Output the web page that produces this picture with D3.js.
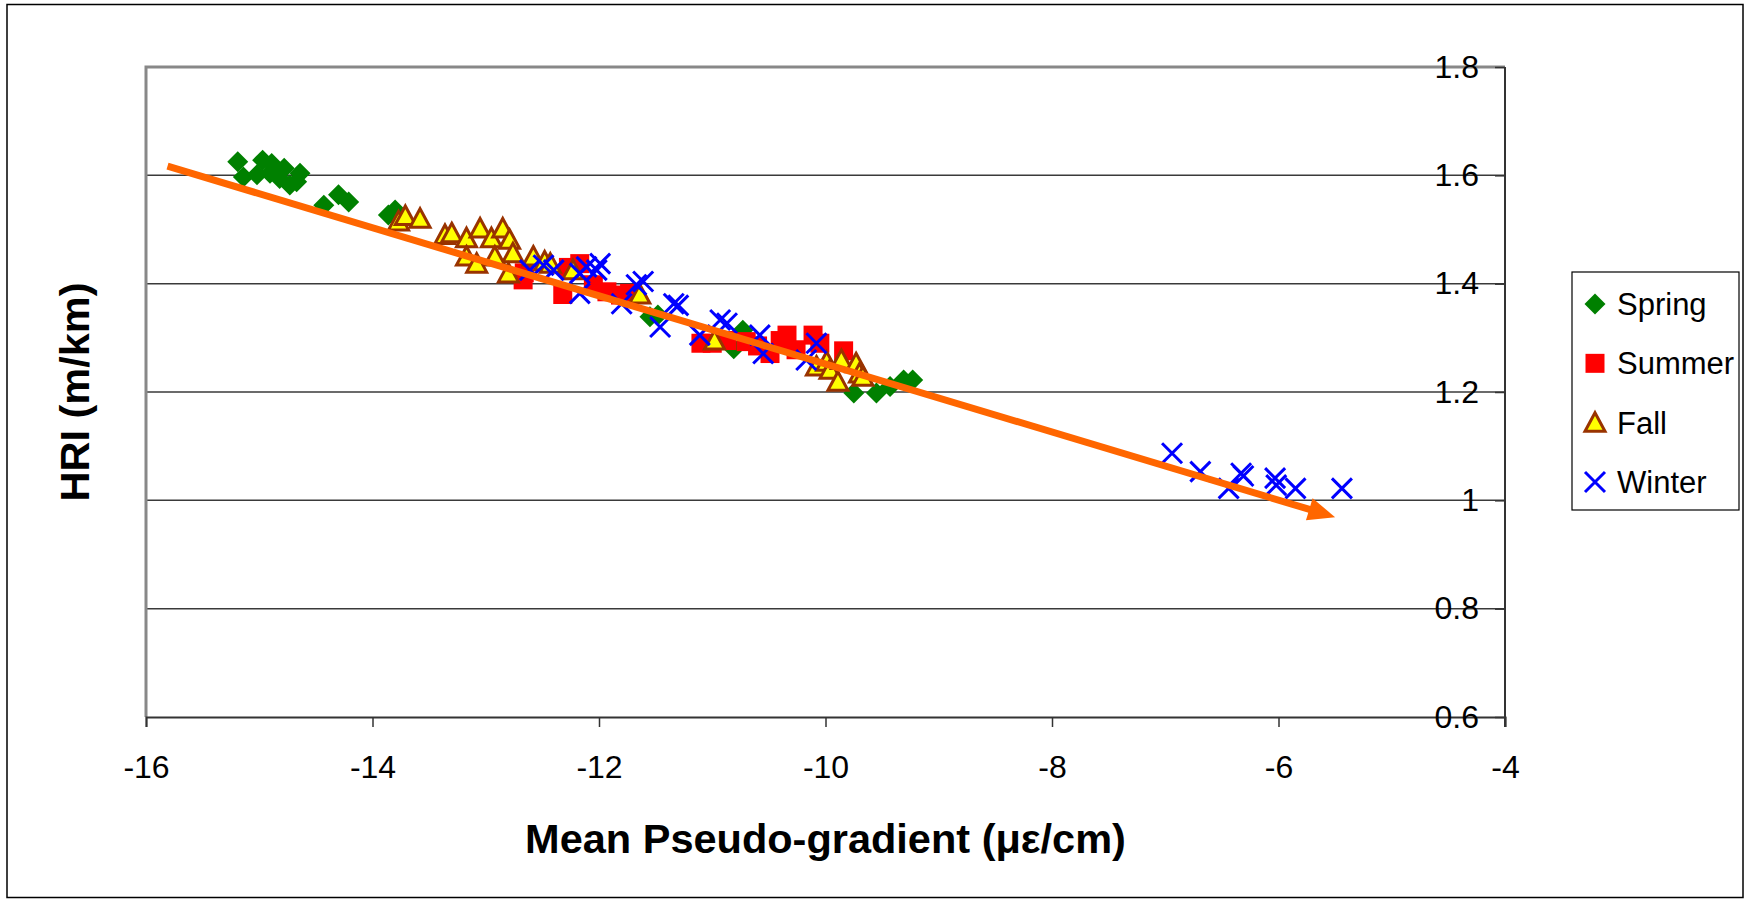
<!DOCTYPE html>
<html>
<head>
<meta charset="utf-8">
<script src="https://cdn.jsdelivr.net/npm/d3@7"></script>
<style>
  html, body { margin: 0; padding: 0; background: #fff; }
  svg { display: block; }
  text { font-family: "Liberation Sans", Arial, sans-serif; fill: #000; }
</style>
</head>
<body>
<svg id="chart" width="1750" height="905"></svg>
<script>
// ---------- data ----------
const seriesNames = ["Spring", "Summer", "Fall", "Winter"];

const springX = [-15.19, -15.14, -15.02, -14.97, -14.905, -14.89, -14.82, -14.78, -14.73, -14.67, -14.64, -14.43, -14.30, -14.21, -13.86, -13.80, -11.55, -11.48, -10.81, -10.73, -9.75, -9.55, -9.43, -9.31, -9.23];
const springY = [1.625, 1.597, 1.601, 1.628, 1.604, 1.622, 1.594, 1.613, 1.582, 1.588, 1.604, 1.545, 1.564, 1.551, 1.527, 1.536, 1.339, 1.342, 1.280, 1.314, 1.198, 1.198, 1.210, 1.222, 1.222];

const summerX = [-12.67, -12.66, -12.32, -12.27, -12.17, -12.05, -11.93, -11.81, -11.73, -11.10, -11.00, -10.87, -10.70, -10.60, -10.49, -10.40, -10.34, -10.26, -10.11, -10.05, -9.84];
const summerY = [1.407, 1.420, 1.380, 1.430, 1.437, 1.398, 1.385, 1.379, 1.382, 1.290, 1.290, 1.295, 1.293, 1.285, 1.271, 1.295, 1.305, 1.278, 1.305, 1.290, 1.276];

const fallX = [-13.77, -13.71, -13.58, -13.36, -13.30, -13.17, -13.05, -12.95, -12.85, -12.79, -12.76, -13.17, -13.08, -12.92, -12.80, -12.58, -12.48, -12.43, -12.23, -11.64, -10.98, -10.08, -9.99, -9.96, -9.86, -9.89, -9.73, -9.70, -9.67];
const fallY = [1.515, 1.525, 1.520, 1.490, 1.493, 1.484, 1.502, 1.484, 1.502, 1.481, 1.456, 1.450, 1.437, 1.450, 1.419, 1.450, 1.441, 1.437, 1.425, 1.380, 1.295, 1.247, 1.256, 1.241, 1.259, 1.219, 1.253, 1.234, 1.228];

const winterX = [-12.61, -12.49, -12.40, -12.17, -12.11, -12.02, -11.99, -12.17, -11.80, -11.67, -11.61, -11.34, -11.30, -11.46, -11.11, -10.93, -10.87, -10.58, -10.55, -10.08, -10.17, -6.94, -6.69, -6.44, -6.33, -6.31, -6.03, -6.02, -5.85, -5.44];
const winterY = [1.425, 1.434, 1.425, 1.419, 1.431, 1.425, 1.437, 1.382, 1.363, 1.398, 1.404, 1.363, 1.360, 1.320, 1.305, 1.333, 1.327, 1.305, 1.271, 1.290, 1.259, 1.087, 1.053, 1.022, 1.050, 1.045, 1.041, 1.028, 1.022, 1.022];

// trend arrow (start, end)
const trendX = [-15.81, -5.50];
const trendY = [1.617, 0.969];

const xTicks = [-16, -14, -12, -10, -8, -6, -4];
const yTicks = [0.6, 0.8, 1.0, 1.2, 1.4, 1.6, 1.8];
const xTitle = "Mean Pseudo-gradient (\u03BC\u03B5/cm)";
const yTitle = "HRI (m/km)";

// ---------- layout ----------
const plot = { left: 146, right: 1505, top: 67, bottom: 717 };
const svg = d3.select("#chart");

const x = d3.scaleLinear().domain([-16, -4]).range([plot.left, plot.right]);
const y = d3.scaleLinear().domain([0.6, 1.8]).range([plot.bottom, plot.top]);

// outer border
svg.append("rect").attr("x", 7).attr("y", 4.5).attr("width", 1736).attr("height", 893)
  .attr("fill", "#fff").attr("stroke", "#000").attr("stroke-width", 1.5);

// gridlines
svg.append("g").selectAll("line").data(yTicks.slice(1, -1)).join("line")
  .attr("x1", plot.left).attr("x2", plot.right)
  .attr("y1", d => y(d)).attr("y2", d => y(d))
  .attr("stroke", "#3a3a3a").attr("stroke-width", 1.5);

// plot area border (gray)
svg.append("path")
  .attr("d", `M${plot.left},${plot.bottom} V${plot.top} H${plot.right}`)
  .attr("fill", "none").attr("stroke", "#888").attr("stroke-width", 3);

// x axis (bottom)
const xAxis = d3.axisBottom(x).tickValues(xTicks).tickSize(10).tickPadding(28).tickFormat(d3.format("d"));
const gx = svg.append("g").attr("transform", `translate(0,${plot.bottom})`).call(xAxis);
gx.select(".domain").attr("stroke", "#333").attr("stroke-width", 2);
gx.selectAll(".tick line").attr("stroke", "#333").attr("stroke-width", 1.5);
gx.selectAll(".tick text").style("font-size", "32px").attr("fill", "#000")
  .style("font-family", "'Liberation Sans', Arial, sans-serif")
  .text(d => (d < 0 ? "-" : "") + Math.abs(d));

// y axis (right side, labels drawn inside)
const yAxis = d3.axisLeft(y).tickValues(yTicks).tickSize(10).tickPadding(16)
  .tickFormat(d => d3.format("")(+d.toFixed(1)));
const gy = svg.append("g").attr("transform", `translate(${plot.right},0)`).call(yAxis);
gy.select(".domain").remove();
gy.selectAll(".tick line").attr("stroke", "#333").attr("stroke-width", 1.5);
gy.selectAll(".tick text").style("font-size", "32px").attr("fill", "#000")
  .style("font-family", "'Liberation Sans', Arial, sans-serif");
svg.append("line").attr("x1", plot.right).attr("x2", plot.right)
  .attr("y1", plot.top).attr("y2", plot.bottom + 10)
  .attr("stroke", "#333").attr("stroke-width", 2);

// ---------- markers ----------
const markerDefs = {
  Spring: { path: "M0,-10.5L10.5,0L0,10.5L-10.5,0Z", fill: "#008000", stroke: "none", sw: 0 },
  Summer: { path: "M-9.5,-9.5H9.5V9.5H-9.5Z", fill: "#FF0000", stroke: "none", sw: 0 },
  Fall:   { path: "M0,-10L10,8.5L-10,8.5Z", fill: "#FFFF00", stroke: "#993300", sw: 3 },
  Winter: { path: "M-10,-10L10,10M10,-10L-10,10", fill: "none", stroke: "#0000FF", sw: 3 }
};
const seriesData = [
  { name: "Spring", xs: springX, ys: springY },
  { name: "Summer", xs: summerX, ys: summerY },
  { name: "Fall", xs: fallX, ys: fallY },
  { name: "Winter", xs: winterX, ys: winterY }
];

const gMarks = svg.append("g");
seriesData.forEach(s => {
  const m = markerDefs[s.name];
  const pts = s.xs.map((v, i) => [v, s.ys[i]]);
  gMarks.append("g").selectAll("path").data(pts).join("path")
    .attr("transform", d => `translate(${x(d[0])},${y(d[1])})`)
    .attr("d", m.path)
    .attr("fill", m.fill).attr("stroke", m.stroke).attr("stroke-width", m.sw)
    .attr("stroke-linejoin", "miter");
});

// ---------- trend arrow ----------
const x0 = x(trendX[0]), y0 = y(trendY[0]), x1 = x(trendX[1]), y1 = y(trendY[1]);
const len = Math.hypot(x1 - x0, y1 - y0), ux = (x1 - x0) / len, uy = (y1 - y0) / len;
const headLen = 27, headHalf = 11.5;
const bx = x1 - ux * headLen, by = y1 - uy * headLen;
svg.append("line").attr("x1", x0).attr("y1", y0).attr("x2", bx + ux * 2).attr("y2", by + uy * 2)
  .attr("stroke", "#FF6600").attr("stroke-width", 7);
svg.append("path")
  .attr("d", `M${x1},${y1}L${bx - uy * headHalf},${by + ux * headHalf}L${bx + uy * headHalf},${by - ux * headHalf}Z`)
  .attr("fill", "#FF6600");

// ---------- titles ----------
svg.append("text").attr("x", (plot.left + plot.right) / 2).attr("y", 853)
  .attr("text-anchor", "middle").style("font-size", "41.5px").style("font-weight", "bold")
  .text(xTitle);
svg.append("text").attr("transform", `translate(89,${(plot.top + plot.bottom) / 2}) rotate(-90)`)
  .attr("text-anchor", "middle").style("font-size", "41.5px").style("font-weight", "bold")
  .text(yTitle);

// ---------- legend ----------
const lg = svg.append("g");
lg.append("rect").attr("x", 1572).attr("y", 272).attr("width", 167).attr("height", 238)
  .attr("fill", "#fff").attr("stroke", "#000").attr("stroke-width", 1.2);
const legendY = d3.scalePoint().domain(seriesNames).range([304, 482]);
seriesNames.forEach(n => {
  const m = markerDefs[n];
  lg.append("path").attr("transform", `translate(1595,${legendY(n)})`).attr("d", m.path)
    .attr("fill", m.fill).attr("stroke", m.stroke).attr("stroke-width", m.sw);
  lg.append("text").attr("x", 1617).attr("y", legendY(n) + 11).style("font-size", "31px").text(n);
});
</script>
</body>
</html>
